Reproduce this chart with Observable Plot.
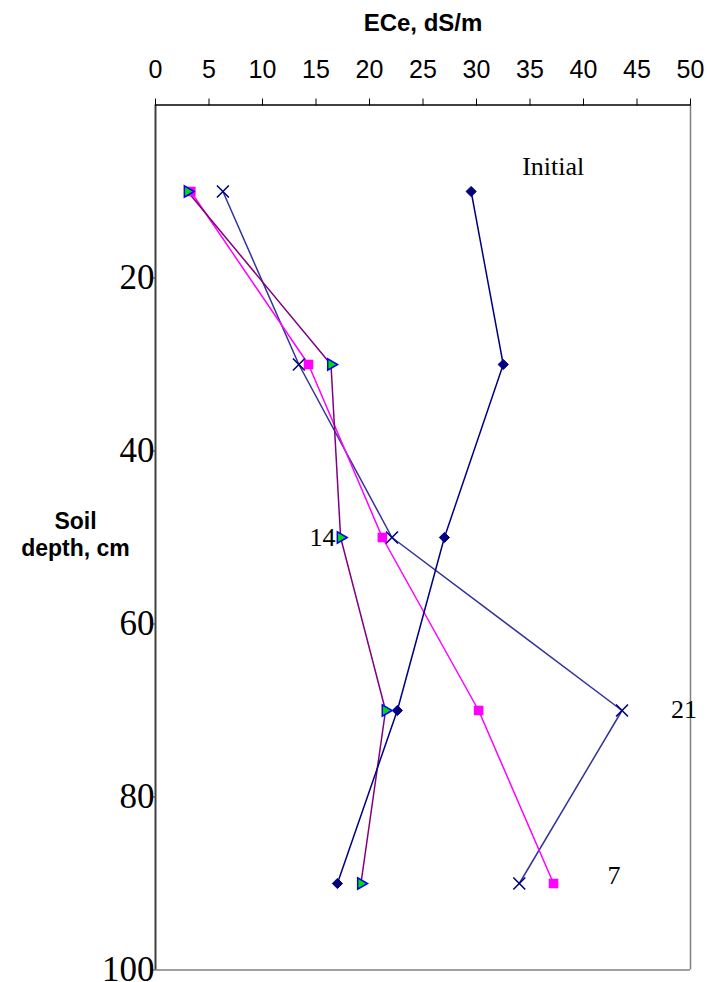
<!DOCTYPE html>
<html>
<head>
<meta charset="utf-8">
<script src="https://cdn.jsdelivr.net/npm/d3@7"></script>
<script src="https://cdn.jsdelivr.net/npm/@observablehq/plot@0.6"></script>
<style>
  html, body { margin: 0; padding: 0; background: #fff; }
  #chart svg { display: block; }
</style>
</head>
<body>
<div id="chart"></div>
<script>
// Soil salinity (ECe, dS/m) against soil depth, before and after leaching
const depths = [10, 30, 50, 70, 90];
const ecInitial = [29.5, 32.5, 27.0, 22.6, 17.0];
const ecDay7 = [3.3, 14.3, 21.2, 30.2, 37.2];
const ecDay14 = [3.0, 16.4, 17.3, 21.5, 19.2];
const ecDay21 = [6.3, 13.4, 22.1, 43.6, 34.0];
const xTicks = [0, 5, 10, 15, 20, 25, 30, 35, 40, 45, 50];
const yTicks = [20, 40, 60, 80, 100];

const rows = (vals) => depths.map((d, i) => ({depth: d, ec: vals[i]}));
const initial = rows(ecInitial);
const day7 = rows(ecDay7);
const day14 = rows(ecDay14);
const day21 = rows(ecDay21);

const serif = "'Liberation Serif', 'Times New Roman', serif";
const sans = "'Liberation Sans', Arial, sans-serif";

const chart = Plot.plot({
  width: 707,
  height: 982,
  marginLeft: 155,
  marginRight: 17,
  marginTop: 104.5,
  marginBottom: 12.5,
  style: {background: "#fff", overflow: "visible"},
  x: {domain: [0, 50]},
  y: {domain: [0, 100], reverse: true},
  marks: [
    // frame
    Plot.ruleX([50], {stroke: "#808080", strokeWidth: 1.5}),
    Plot.ruleY([100], {stroke: "#808080", strokeWidth: 1.5}),
    Plot.ruleX([0], {stroke: "#404040", strokeWidth: 2}),
    Plot.ruleY([0], {stroke: "#000", strokeWidth: 1.5}),
    Plot.axisX({
      anchor: "top", ticks: xTicks, tickSize: 7, tickPadding: 20,
      fontSize: 25, fontFamily: sans, label: null, stroke: "#000"
    }),
    Plot.axisY({
      anchor: "left", ticks: yTicks, tickSize: 4, tickPadding: -3,
      fontSize: 35, fontFamily: serif, label: null, stroke: "#404040"
    }),
    // series lines
    Plot.line(day21, {x: "ec", y: "depth", stroke: "#333399", strokeWidth: 1.5}),
    Plot.line(day7, {x: "ec", y: "depth", stroke: "#ff00ff", strokeWidth: 1.5}),
    Plot.line(day14, {x: "ec", y: "depth", stroke: "#800080", strokeWidth: 1.5}),
    Plot.line(initial, {x: "ec", y: "depth", stroke: "#000080", strokeWidth: 1.5}),
    // markers
    Plot.dot(initial, {x: "ec", y: "depth", symbol: "diamond2", r: 4.6, fill: "#000080", stroke: "#000080", strokeWidth: 1}),
    Plot.dot(day21, {x: "ec", y: "depth", symbol: "times", r: 5.5, stroke: "#000080", strokeWidth: 1.6, fill: "none"}),
    Plot.dot(day7, {x: "ec", y: "depth", symbol: "square", r: 5.4, fill: "#ff00ff", stroke: "none"}),
    Plot.dot(day14, {x: "ec", y: "depth", symbol: "triangle", rotate: 90, r: 4.2, fill: "#00dd00", stroke: "#0000ff", strokeWidth: 1.5}),
    // series labels, attached to one point of each series
    Plot.text([initial[0]], {x: "ec", y: "depth", text: () => "Initial", dx: 51, dy: -25, textAnchor: "start", fontSize: 26, fontFamily: serif, fill: "#000"}),
    Plot.text([day14[2]], {x: "ec", y: "depth", text: () => "14", dx: -5, dy: 0, textAnchor: "end", fontSize: 26, fontFamily: serif, fill: "#000"}),
    Plot.text([day21[3]], {x: "ec", y: "depth", text: () => "21", dx: 49, dy: -1, textAnchor: "start", fontSize: 26, fontFamily: serif, fill: "#000"}),
    Plot.text([day7[4]], {x: "ec", y: "depth", text: () => "7", dx: 54, dy: -8, textAnchor: "start", fontSize: 26, fontFamily: serif, fill: "#000"}),
    // axis titles
    Plot.text(["ECe, dS/m"], {frameAnchor: "top", lineAnchor: "middle", dy: -82, fontSize: 24, fontWeight: "bold", fontFamily: sans, fill: "#000"}),
    Plot.text(["Soil\ndepth, cm"], {frameAnchor: "left", dx: -80, dy: -4, textAnchor: "middle", lineHeight: 1.2, fontSize: 23, fontWeight: "bold", fontFamily: sans, fill: "#000"})
  ]
});

document.getElementById("chart").appendChild(chart);
</script>
</body>
</html>
